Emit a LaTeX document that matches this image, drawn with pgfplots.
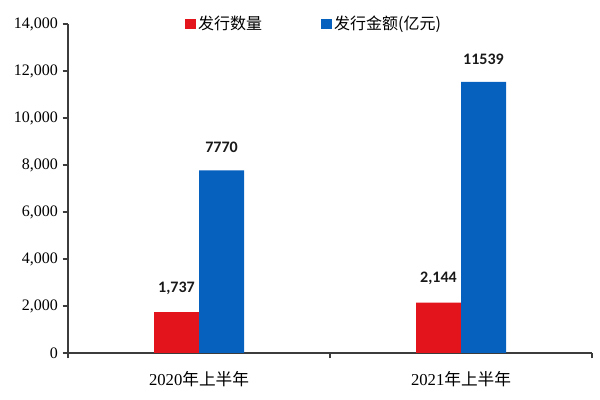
\documentclass[border=0pt]{standalone}
\usepackage{fontspec}
\setmainfont{Liberation Serif}
\newfontfamily\cjk{Noto Sans CJK SC}
\newfontfamily\lblfont{Carlito}
\usepackage{pgfplots}
\pgfplotsset{compat=1.18}
\definecolor{barred}{RGB}{228,20,28}
\definecolor{barblue}{RGB}{5,96,190}
\definecolor{axisgray}{RGB}{60,60,60}
\begin{document}
\begin{tikzpicture}
\begin{axis}[
    at={(51pt,35.25pt)}, anchor=south west,
    scale only axis,
    width=393pt, height=246.75pt,
    ybar=0pt, bar width=33.75pt,
    xmin=-0.5, xmax=1.5,
    ymin=0, ymax=14000,
    ytick={0,2000,...,14000},
    scaled y ticks=false,
    /pgf/number format/assume math mode=true,
    /pgf/number format/1000 sep={,},
    yticklabel style={font=\fontsize{12}{14}\selectfont, text=black},
    xtick={-0.5,0.5,1.5}, xticklabels={},
    extra x ticks={0,1},
    extra x tick labels={2020{\cjk 年上半年}, 2021{\cjk 年上半年}},
    extra x tick style={major tick length=0pt,
        ticklabel style={font=\fontsize{12.5}{14}\selectfont, yshift=-10pt}},
    axis lines*=left,
    axis line style={axisgray, line width=0.9pt},
    tick style={axisgray, line width=0.9pt},
    tick align=outside,
    major tick length=4pt,
    legend columns=2,
    legend style={at={(0.47,1.0)}, anchor=center, draw=none, fill=none,
        font=\cjk\fontsize{12}{14}\selectfont,
        /tikz/every even column/.append style={column sep=42pt}},
    legend image code/.code={\fill[#1] (0pt,-4pt) rectangle (8pt,4pt);},
    nodes near coords,
    nodes near coords style={font=\lblfont\bfseries\fontsize{12}{14}\selectfont,
        text=black!90, anchor=south, inner sep=0pt, yshift=13pt},
]
\addplot[fill=barred, draw=none,
    nodes near coords={\pgfmathprintnumber[1000 sep={,}]{\pgfplotspointmeta}}]
    coordinates {(0,1737) (1,2144)};
\addplot[fill=barblue, draw=none,
    nodes near coords={\pgfmathprintnumber[1000 sep={}]{\pgfplotspointmeta}}]
    coordinates {(0,7770) (1,11539)};
\legend{发行数量, 发行金额(亿元)}
\end{axis}
\pgfresetboundingbox
\useasboundingbox (0,0) rectangle (450pt,300pt);
\end{tikzpicture}
\end{document}
